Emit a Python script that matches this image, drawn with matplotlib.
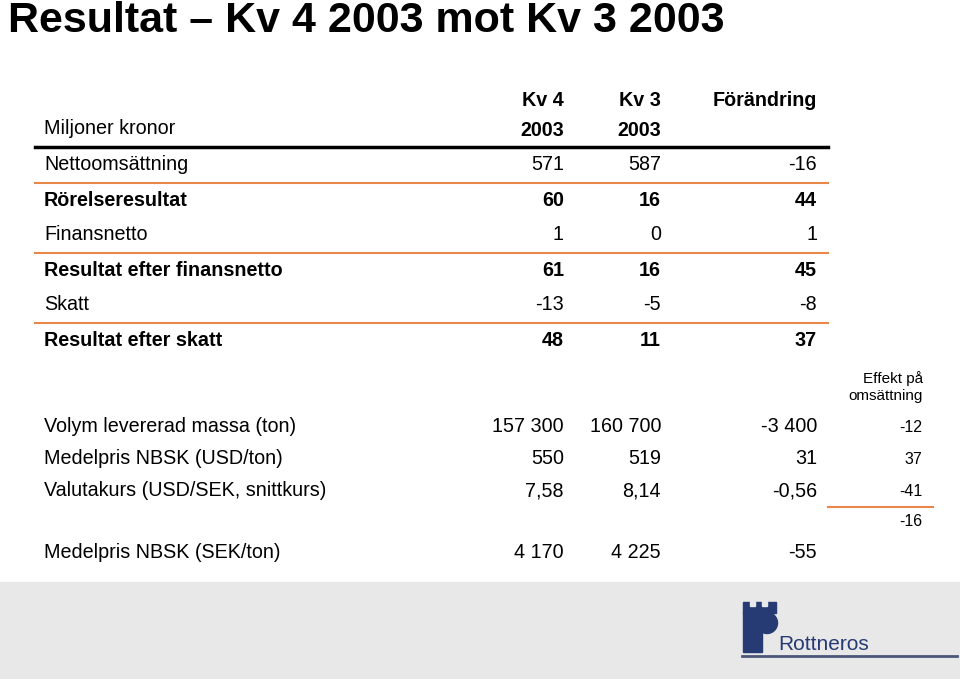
import matplotlib.pyplot as plt
from matplotlib.patches import Rectangle, Circle

plt.rcParams['font.family'] = 'Liberation Sans'

# Data
rows = ['Nettoomsättning', 'Rörelseresultat', 'Finansnetto',
        'Resultat efter finansnetto', 'Skatt', 'Resultat efter skatt']
bold_rows = [False, True, False, True, False, True]
kv4 = ['571', '60', '1', '61', '-13', '48']
kv3 = ['587', '16', '0', '16', '-5', '11']
change = ['-16', '44', '1', '45', '-8', '37']

vol_rows = ['Volym levererad massa (ton)', 'Medelpris NBSK (USD/ton)',
            'Valutakurs (USD/SEK, snittkurs)']
vol_kv4 = ['157 300', '550', '7,58']
vol_kv3 = ['160 700', '519', '8,14']
vol_change = ['-3 400', '31', '-0,56']
effect = ['-12', '37', '-41']
effect_total = '-16'
sek_row = ['Medelpris NBSK (SEK/ton)', '4 170', '4 225', '-55']

ORANGE = '#e8874a'
BLUE = '#263a74'
GRAY = '#e8e8e8'

fig = plt.figure(figsize=(9.6, 6.79), dpi=100)
ax = fig.add_axes([0, 0, 1, 1])
ax.set_xlim(0, 960)
ax.set_ylim(679, 0)
ax.axis('off')

fs = 14.2
ax.text(8, 21, 'Resultat – Kv 4 2003 mot Kv 3 2003', fontsize=31,
        fontweight='bold', va='center')

xl, x1, x2, x3, x4 = 44, 564, 661, 817, 922
for x, a, b in [(x1, 'Kv 4', '2003'), (x2, 'Kv 3', '2003')]:
    ax.text(x, 100, a, fontsize=fs, fontweight='bold', ha='right', va='center')
    ax.text(x, 131, b, fontsize=fs, fontweight='bold', ha='right', va='center')
ax.text(x3, 100, 'Förändring', fontsize=fs, fontweight='bold', ha='right', va='center')
ax.text(xl, 128, 'Miljoner kronor', fontsize=fs, va='center')
ax.plot([35, 828], [147, 147], color='black', lw=2.5)

y = 165
for i, name in enumerate(rows):
    w = 'bold' if bold_rows[i] else 'normal'
    ax.text(xl, y, name, fontsize=fs, fontweight=w, va='center')
    ax.text(x1, y, kv4[i], fontsize=fs, fontweight=w, ha='right', va='center')
    ax.text(x2, y, kv3[i], fontsize=fs, fontweight=w, ha='right', va='center')
    ax.text(x3, y, change[i], fontsize=fs, fontweight=w, ha='right', va='center')
    if i in (0, 2, 4):
        ax.plot([35, 828], [y + 18, y + 18], color=ORANGE, lw=1.5)
    y += 35

ax.text(x4 + 1, 387, 'Effekt på\nomsättning', fontsize=11, ha='right',
        va='center', linespacing=1.2)
y = 427
for i, name in enumerate(vol_rows):
    ax.text(xl, y, name, fontsize=fs, va='center')
    ax.text(x1, y, vol_kv4[i], fontsize=fs, ha='right', va='center')
    ax.text(x2, y, vol_kv3[i], fontsize=fs, ha='right', va='center')
    ax.text(x3, y, vol_change[i], fontsize=fs, ha='right', va='center')
    ax.text(x4, y, effect[i], fontsize=11.5, ha='right', va='center')
    y += 32
ax.plot([828, 933], [507, 507], color=ORANGE, lw=1.5)
ax.text(x4, 521, effect_total, fontsize=11.5, ha='right', va='center')

ax.text(xl, 553, sek_row[0], fontsize=fs, va='center')
ax.text(x1, 553, sek_row[1], fontsize=fs, ha='right', va='center')
ax.text(x2, 553, sek_row[2], fontsize=fs, ha='right', va='center')
ax.text(x3, 553, sek_row[3], fontsize=fs, ha='right', va='center')

# footer with logo
ax.add_patch(Rectangle((0, 582), 960, 97, color=GRAY, zorder=0))
ax.add_patch(Rectangle((743, 602), 33, 11, color=BLUE))
ax.add_patch(Rectangle((743, 612), 19, 40, color=BLUE))
for nx in (750, 762):
    ax.add_patch(Rectangle((nx, 601), 5, 5, color=GRAY))
ax.add_patch(Circle((767, 623), 10.5, color=BLUE))
ax.text(778, 645, 'Rottneros', fontsize=15, color=BLUE, va='center')
ax.plot([742, 957], [656, 656], color='#4a5578', lw=2)

fig.savefig('out.png', dpi=100)
